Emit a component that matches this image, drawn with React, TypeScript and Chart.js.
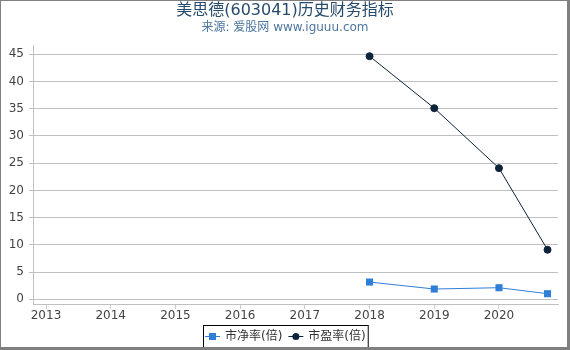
import React, { useEffect, useRef } from "react";
import { Chart, registerables } from "chart.js";

Chart.register(...registerables);

const FONT = '"DejaVu Sans", "Noto Sans CJK SC", sans-serif';

const titleText = "美思德(603041)历史财务指标";
const subtitleText = "来源: 爱股网 www.iguuu.com";

const periods = [2018.0, 2019.0, 2020.0, 2020.75];
const pbLabel = "市净率(倍)";
const peLabel = "市盈率(倍)";
const pbValues = [3.17, 1.89, 2.13, 1.03];
const peValues = [44.64, 35.1, 24.09, 9.1];

const yearTicks = [2013, 2014, 2015, 2016, 2017, 2018, 2019, 2020];
const yTicks = [0, 5, 10, 15, 20, 25, 30, 35, 40, 45];

const PB_COLOR = "#2f7ed8";
const PE_COLOR = "#0d233a";

const decorPlugin = {
  id: "decor",
  afterDraw(chart: any) {
    const ctx = chart.ctx;
    const W = chart.width;
    const H = chart.height;
    ctx.save();
    // titles
    ctx.textAlign = "center";
    ctx.textBaseline = "middle";
    ctx.fillStyle = "#274b6d";
    ctx.font = `16px ${FONT}`;
    ctx.fillText(titleText, W / 2, 11);
    ctx.fillStyle = "#4d759e";
    ctx.font = `12px ${FONT}`;
    ctx.fillText(subtitleText, W / 2, 28);

    // legend
    ctx.font = `12px ${FONT}`;
    const ds = chart.data.datasets;
    const symW = 15;
    const gapSym = 5;
    const gapItem = 6;
    const pad = 2;
    const widths = ds.map((d: any) => symW + gapSym + ctx.measureText(d.label).width);
    const total = widths.reduce((a: number, b: number) => a + b, 0) + gapItem * (ds.length - 1);
    const boxW = total + pad * 2;
    const boxX = Math.round(W / 2 - boxW / 2);
    const boxY = 325;
    const boxH = 22;
    const cy = boxY + boxH / 2;
    ctx.strokeStyle = "#000";
    ctx.lineWidth = 1;
    ctx.strokeRect(boxX + 0.5, boxY + 0.5, boxW, boxH);
    let x = boxX + pad;
    ds.forEach((d: any, i: number) => {
      ctx.strokeStyle = d.borderColor;
      ctx.lineWidth = 1;
      ctx.beginPath();
      ctx.moveTo(x, cy + 0.5);
      ctx.lineTo(x + symW, cy + 0.5);
      ctx.stroke();
      ctx.fillStyle = d.pointBackgroundColor;
      const mx = x + symW / 2;
      if (d.pointStyle === "rect") {
        ctx.fillRect(mx - 3.5, cy - 3, 7, 7);
      } else {
        ctx.beginPath();
        ctx.arc(mx, cy + 0.5, 3.5, 0, Math.PI * 2);
        ctx.fill();
      }
      ctx.fillStyle = "#333";
      ctx.textAlign = "left";
      ctx.textBaseline = "middle";
      ctx.fillText(d.label, x + symW + gapSym, cy + 1);
      x += widths[i] + gapItem;
    });

    // outer border
    ctx.fillStyle = "#808080";
    ctx.fillRect(0, 0, W, 1);
    ctx.fillRect(0, 0, 1, H);
    ctx.fillRect(W - 3, 0, 3, H);
    ctx.fillRect(0, H - 3, W, 3);
    ctx.restore();
  },
};

export default function App() {
  const ref = useRef<HTMLCanvasElement | null>(null);
  useEffect(() => {
    if (!ref.current) return;
    const chart = new Chart(ref.current, {
      type: "line",
      data: {
        datasets: [
          {
            label: pbLabel,
            data: periods.map((p, i) => ({ x: p, y: pbValues[i] })),
            borderColor: PB_COLOR,
            backgroundColor: PB_COLOR,
            pointBackgroundColor: PB_COLOR,
            pointBorderColor: PB_COLOR,
            pointStyle: "rect",
            pointRadius: 5,
            pointBorderWidth: 0,
            borderWidth: 1,
            tension: 0,
          },
          {
            label: peLabel,
            data: periods.map((p, i) => ({ x: p, y: peValues[i] })),
            borderColor: PE_COLOR,
            backgroundColor: PE_COLOR,
            pointBackgroundColor: PE_COLOR,
            pointBorderColor: PE_COLOR,
            pointStyle: "circle",
            pointRadius: 3.5,
            pointBorderWidth: 1,
            borderWidth: 1,
            tension: 0,
          },
        ],
      },
      options: {
        responsive: false,
        animation: false,
        devicePixelRatio: 1,
        layout: { padding: { left: 0, right: 12, top: 45, bottom: 26 } },
        plugins: {
          legend: { display: false },
          title: { display: false },
          tooltip: { enabled: false },
        },
        scales: {
          x: {
            type: "linear",
            min: 2012.799,
            max: 2020.912,
            afterBuildTicks: (s: any) => {
              s.ticks = yearTicks.map((v) => ({ value: v }));
            },
            afterFit: (s: any) => {
              s.height = 20;
            },
            ticks: {
              font: { family: FONT, size: 12 },
              color: "#444",
              padding: 0,
              maxRotation: 0,
              autoSkip: false,
              callback: (v: any) => String(v),
            },
            grid: {
              display: true,
              drawOnChartArea: false,
              drawTicks: true,
              tickLength: 5,
              color: "#C0D0E0",
            },
            border: { display: true, color: "#C0C0C0", width: 1 },
          },
          y: {
            type: "linear",
            min: -0.86,
            max: 46.7,
            afterBuildTicks: (s: any) => {
              s.ticks = yTicks.map((v) => ({ value: v }));
            },
            afterFit: (s: any) => {
              s.width = 33;
            },
            ticks: {
              font: { family: FONT, size: 12 },
              color: "#444",
              padding: 5,
              callback: (v: any) => String(v),
            },
            grid: {
              color: "#C0C0C0",
              tickLength: 4,
              drawTicks: true,
            },
            border: { display: true, color: "#C0C0C0", width: 1 },
          },
        },
      },
      plugins: [decorPlugin],
    });
    return () => chart.destroy();
  }, []);
  return (
    <div style={{ position: "absolute", left: 0, top: 0, width: 570, height: 350, background: "#fff" }}>
      <canvas ref={ref} width={570} height={350} style={{ display: "block" }} />
    </div>
  );
}
